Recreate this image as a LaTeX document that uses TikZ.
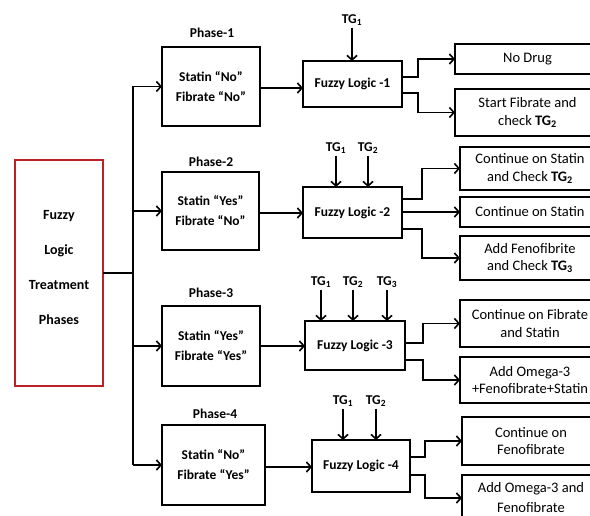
\documentclass[tikz,border=0pt]{standalone}
\usepackage{fontspec}
\setmainfont{Carlito}
\usetikzlibrary{arrows.meta}
\definecolor{boxred}{RGB}{185,35,40}
\tikzset{
  box/.style={draw=black, line width=1.6pt, inner sep=1pt, outer sep=0pt, align=center},
  phasebox/.style={box, font=\fontsize{13.5}{20}\selectfont\bfseries},
  fuzzbox/.style={box, font=\fontsize{13.5}{16}\selectfont\bfseries},
  outbox/.style={box, font=\fontsize{14.5}{17.5}\selectfont},
  lbl/.style={inner sep=1pt, font=\fontsize{13.5}{16}\selectfont\bfseries},
  tglbl/.style={inner sep=2pt, font=\fontsize{13.5}{16}\selectfont\bfseries},
  conn/.style={line width=1.6pt, draw=black},
  arr/.style={conn, -{Straight Barb[length=4.5pt,width=10pt,line width=1.6pt]}}
}
\begin{document}
\begin{tikzpicture}[x=1pt,y=-1pt]
\clip (0,0) rectangle (590,516);
\fill[white] (0,0) rectangle (590,516);

% left red box
\node[draw=boxred, line width=1.4pt, minimum width=88pt, minimum height=226pt, outer sep=0pt] (red) at (59,273) {};
\node[align=center, font=\fontsize{14}{35}\selectfont\bfseries] (redtxt) at ([yshift=5pt]red.center) {Fuzzy\\Logic\\Treatment\\Phases};

% phase boxes
\node[phasebox, minimum width=98pt, minimum height=79pt] (p1) at (211,86.5) {Statin “No”\\Fibrate “No”};
\node[phasebox, minimum width=97pt, minimum height=78pt] (p2) at (210.5,211) {Statin “Yes”\\Fibrate “No”};
\node[phasebox, minimum width=98pt, minimum height=80pt] (p3) at (211,346) {Statin “Yes”\\Fibrate “Yes”};
\node[phasebox, minimum width=103pt, minimum height=80pt] (p4) at (213.5,465) {Statin “No”\\Fibrate “Yes”};

\node[lbl] (ph1) at (212,33) {Phase-1};
\node[lbl] (ph2) at (211,162) {Phase-2};
\node[lbl] (ph3) at (211,293) {Phase-3};
\node[lbl] (ph4) at (215,414) {Phase-4};

% fuzzy logic boxes
\node[fuzzbox, minimum width=99pt, minimum height=46pt] (f1) at (352.5,84) {Fuzzy Logic -1};
\node[fuzzbox, minimum width=99pt, minimum height=51pt] (f2) at (352.5,212.5) {Fuzzy Logic -2};
\node[fuzzbox, minimum width=100pt, minimum height=49pt] (f3) at (355,345.5) {Fuzzy Logic -3};
\node[fuzzbox, minimum width=98pt, minimum height=52pt] (f4) at (361,466) {Fuzzy Logic -4};

% output boxes
\node[outbox, minimum width=145pt, minimum height=30pt] (o1) at (527.5,59) {No Drug};
\node[outbox, minimum width=145pt, minimum height=47pt] (o2) at (527.5,112.5) {Start Fibrate and\\check \textbf{TG\textsubscript{2}}};
\node[outbox, minimum width=140pt, minimum height=43pt] (o3) at (530,168.5) {Continue on Statin\\and Check \textbf{TG\textsubscript{2}}};
\node[outbox, minimum width=140pt, minimum height=30pt] (o4) at (530,212) {Continue on Statin};
\node[outbox, minimum width=140pt, minimum height=44pt] (o5) at (530,258) {Add Fenofibrite\\and Check \textbf{TG\textsubscript{3}}};
\node[outbox, minimum width=140pt, minimum height=47pt] (o6) at (530,323.5) {Continue on Fibrate\\and Statin};
\node[outbox, minimum width=140pt, minimum height=46pt] (o7) at (530,380) {Add Omega-3\\+Fenofibrate+Statin};
\node[outbox, minimum width=138pt, minimum height=48pt] (o8) at (531,441) {Continue on\\Fenofibrate};
\node[outbox, minimum width=138pt, minimum height=46pt, font=\fontsize{14.5}{20}\selectfont] (o9) at (531,498) {Add Omega-3 and\\Fenofibrate};

% TG labels
\node[tglbl] (tg11) at (352,20) {TG\textsubscript{1}};
\node[tglbl] (tg21) at (336,148) {TG\textsubscript{1}};
\node[tglbl] (tg22) at (368,148) {TG\textsubscript{2}};
\node[tglbl] (tg31) at (321,282) {TG\textsubscript{1}};
\node[tglbl] (tg32) at (353,282) {TG\textsubscript{2}};
\node[tglbl] (tg33) at (387,282) {TG\textsubscript{3}};
\node[tglbl] (tg41) at (343,401) {TG\textsubscript{1}};
\node[tglbl] (tg42) at (376,401) {TG\textsubscript{2}};

\foreach \t/\f in {tg11/f1, tg21/f2, tg22/f2, tg31/f3, tg32/f3, tg33/f3, tg41/f4, tg42/f4}
  \draw[arr] (\t.south) -- (\t.south |- \f.north);

% trunk
\coordinate (tr) at (133,0);
\draw[conn] (red.east) -- (red.east -| tr);
\draw[conn] (tr |- p1.west) -- (tr |- p4.west);
\foreach \p in {p1,p2,p3,p4}
  \draw[arr] (tr |- \p.west) -- (\p.west);

% phase -> fuzzy
\draw[arr] ([yshift=-1.5pt]p1.east) -- ([yshift=-1.5pt]p1.east -| f1.west);
\draw[arr] ([yshift=-2pt]p2.east) -- ([yshift=-2pt]p2.east -| f2.west);
\draw[arr] (p3.east) -- (p3.east -| f3.west);
\draw[arr] ([yshift=-2pt]p4.east) -- ([yshift=-2pt]p4.east -| f4.west);

% fuzzy -> outputs
\draw[arr] ([yshift=7pt]f1.east) -- ++(16,0) |- (o1.west);
\draw[arr] ([yshift=-9pt]f1.east) -- ++(16,0) |- (o2.west);
\draw[arr] ([yshift=13.5pt]f2.east) -- ++(20,0) |- (o3.west);
\draw[arr] (f2.east |- o4.west) -- (o4.west);
\draw[arr] ([yshift=-16.5pt]f2.east) -- ++(20,0) |- (o5.west);
\draw[arr] ([yshift=2.5pt]f3.east) -- ++(18,0) |- (o6.west);
\draw[arr] ([yshift=-14.5pt]f3.east) -- ++(18,0) |- (o7.west);
\draw[arr] ([yshift=9pt]f4.east) -- ++(15,0) |- (o8.west);
\draw[arr] ([yshift=-9pt]f4.east) -- ++(15,0) |- (o9.west);
\end{tikzpicture}
\end{document}
